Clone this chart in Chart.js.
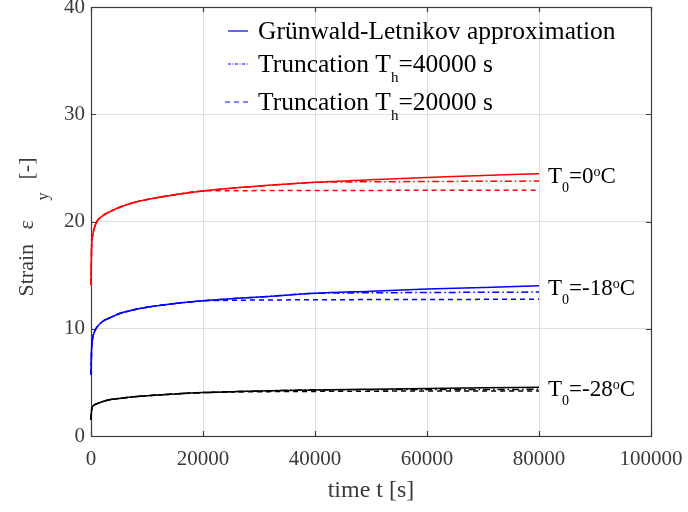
<!DOCTYPE html>
<html><head><meta charset="utf-8">
<script src="https://cdn.jsdelivr.net/npm/chart.js@4.4.0/dist/chart.umd.min.js"></script>
<style>html,body{margin:0;padding:0;background:#fff}#wrap{width:688px;height:512px}</style>
</head><body><div id="wrap"><canvas id="c" width="688" height="512"></canvas></div>
<script>
// ---- data ----
const timeS   = [0,100,300,600,1000,2000,3500,5000,7500,10000,15000,20000,25000,30000,40000,50000,60000,70000,80000];
const redGL   = [14.1,17.5,18.7,19.4,19.95,20.5,20.95,21.3,21.75,22.05,22.5,22.85,23.1,23.3,23.65,23.9,24.1,24.3,24.45];
const blueGL  = [5.7,8.0,9.1,9.7,10.1,10.65,11.05,11.4,11.75,12.0,12.35,12.6,12.8,12.95,13.3,13.5,13.7,13.85,14.0];
const blackGL = [1.5,2.4,2.75,2.9,3.0,3.2,3.4,3.5,3.65,3.75,3.92,4.05,4.13,4.2,4.3,4.37,4.43,4.49,4.54];

const trunc40 = 40000;
const tail40Times = [50000,60000,70000,80000];
const red40Tail   = [23.7,23.73,23.75,23.77];
const blue40Tail  = [13.35,13.38,13.4,13.42];
const black40Tail = [4.32,4.33,4.34,4.35];

const trunc20 = 20000;
const tail20Times = [25000,30000,40000,50000,60000,70000,80000];
const red20Tail   = [22.87,22.88,22.9,22.9,22.91,22.92,22.92];
const blue20Tail  = [12.65,12.68,12.7,12.72,12.73,12.74,12.75];
const black20Tail = [4.1,4.13,4.16,4.18,4.19,4.2,4.2];

const xTicks = [0,20000,40000,60000,80000,100000];
const yTicks = [0,10,20,30,40];
const legendLabels = ['Grünwald-Letnikov approximation','Truncation T','Truncation T'];
const legendSubs = ['', 'h', 'h'];
const legendTails = ['', '=40000 s', '=20000 s'];
const curveLabels = [['T','0','=0','o','C',24.45],['T','0','=-18','o','C',14.0],['T','0','=-28','o','C',4.54]];

// ---- build series ----
const pts = (ts, vs) => ts.map((t,i)=>({x:t,y:vs[i]}));
const truncated = (vals, th, tailT, tailV) =>
  pts(timeS.filter(t=>t<=th), vals.filter((v,i)=>timeS[i]<=th)).concat(pts(tailT, tailV));

const FONT = "'Liberation Serif','Times New Roman',serif";
const DASHDOT = [7,3,1.5,3];
const DASHED = [5,4];
function ds(data,color,dash){
  return {data, borderColor:color, borderWidth:1.5, borderDash:dash, pointRadius:0, clip:4,
          fill:false, cubicInterpolationMode:'monotone'};
}
const datasets = [
  ds(truncated(redGL,trunc20,tail20Times,red20Tail),'#ff0000',DASHED),
  ds(truncated(blueGL,trunc20,tail20Times,blue20Tail),'#0000ff',DASHED),
  ds(truncated(blackGL,trunc20,tail20Times,black20Tail),'#000000',DASHED),
  ds(truncated(redGL,trunc40,tail40Times,red40Tail),'#ff0000',DASHDOT),
  ds(truncated(blueGL,trunc40,tail40Times,blue40Tail),'#0000ff',DASHDOT),
  ds(truncated(blackGL,trunc40,tail40Times,black40Tail),'#000000',DASHDOT),
  ds(pts(timeS,redGL),'#ff0000',[]),
  ds(pts(timeS,blueGL),'#0000ff',[]),
  ds(pts(timeS,blackGL),'#000000',[]),
];

function rich(ctx, parts, x, y, size){
  // parts: [text, mode] mode: 0 normal, 1 sub, 2 sup
  let cx = x;
  for (const [t,m] of parts){
    const fs = m ? Math.round(size*0.6) : size;
    ctx.font = fs+'px '+FONT;
    const dy = m===1 ? size*0.38 : (m===2 ? -size*0.3 : 0);
    ctx.fillText(t, cx, y+dy);
    cx += ctx.measureText(t).width;
  }
}

const decor = {
  id:'decor',
  beforeDatasetsDraw(chart){
    const {ctx, chartArea:a, scales:{x,y}} = chart;
    ctx.save();
    ctx.strokeStyle='#3c3c3c'; ctx.lineWidth=1.2; ctx.setLineDash([]);
    ctx.strokeRect(Math.round(a.left)+0.5, Math.round(a.top)+0.5, Math.round(a.right-a.left), Math.round(a.bottom-a.top));
    ctx.beginPath();
    for (const v of xTicks){ const px=Math.round(x.getPixelForValue(v))+0.5;
      ctx.moveTo(px,a.bottom); ctx.lineTo(px,a.bottom-5); ctx.moveTo(px,a.top); ctx.lineTo(px,a.top+5); }
    for (const v of yTicks){ const py=Math.round(y.getPixelForValue(v))+0.5;
      ctx.moveTo(a.left,py); ctx.lineTo(a.left+5,py); ctx.moveTo(a.right,py); ctx.lineTo(a.right-5,py); }
    ctx.stroke();
    ctx.restore();
  },
  afterDraw(chart){
    const {ctx, chartArea:a, scales:{x,y}} = chart;
    ctx.save();
    // legend
    ctx.strokeStyle='#0000ff'; ctx.lineWidth=1.2;
    const lx = a.left+137, rows=[a.top+24, a.top+57, a.top+95], dashes=[[],[3,1.5,1,1.5],DASHED];
    rows.forEach((ry,i)=>{
      ctx.setLineDash(dashes[i]); ctx.beginPath();
      ctx.moveTo(lx + (i===2?-3:0), ry); ctx.lineTo(lx+20, ry); ctx.stroke();
    });
    ctx.setLineDash([]);
    ctx.fillStyle='#000'; ctx.textBaseline='alphabetic'; ctx.textAlign='left';
    rows.forEach((ry,i)=>{
      const parts=[[legendLabels[i],0]];
      if (legendSubs[i]) parts.push([legendSubs[i],1],[legendTails[i],0]);
      rich(ctx, parts, lx+30, ry+8, 25.5);
    });

    // curve labels
    curveLabels.forEach(c=>{
      const py = y.getPixelForValue(c[5]);
      rich(ctx, [[c[0],0],[c[1],1],[c[2],0],[c[3],2],[c[4],0]], x.getPixelForValue(80000)+9, py+9, 23);
    });

    // y axis title (rotated, with subscript)
    ctx.fillStyle='#3a3a3a';
    ctx.translate(33, y.getPixelForValue(20)+75);
    ctx.rotate(-Math.PI/2);
    ctx.font='22px '+FONT;
    ctx.fillText('Strain',0,0);
    ctx.fillText('ε',67,0);
    ctx.fillText('[-]',117,0);
    ctx.font='16px '+FONT;
    ctx.fillText('y',96,15);
    ctx.restore();
  }
};

function noPad(s){ s.paddingLeft=0; s.paddingRight=0; s.paddingTop=0; s.paddingBottom=0; }

new Chart(document.getElementById('c'), {
  type:'line',
  data:{datasets},
  options:{
    responsive:false, animation:false, devicePixelRatio:1,
    layout:{padding:{left:0,right:37,top:7,bottom:0}},
    plugins:{legend:{display:false}, tooltip:{enabled:false}},
    scales:{
      x:{type:'linear', min:0, max:100000,
        afterFit(s){ s.height=76; noPad(s); },
        afterBuildTicks(s){ s.ticks = xTicks.map(v=>({value:v})); },
        ticks:{font:{family:FONT,size:21}, color:'#3a3a3a', padding:11, maxRotation:0, autoSkip:false,
               callback:v=>String(v)},
        grid:{color:'#dedede', lineWidth:1, drawTicks:false},
        border:{display:false},
        title:{display:true, text:'time t [s]', font:{family:FONT,size:24}, color:'#3a3a3a', padding:{top:0,bottom:7}}
      },
      y:{type:'linear', min:0, max:40,
        afterFit(s){ s.width=91; noPad(s); },
        afterBuildTicks(s){ s.ticks = yTicks.map(v=>({value:v})); },
        ticks:{font:{family:FONT,size:21}, color:'#3a3a3a', padding:6, callback:v=>String(v)},
        grid:{color:'#dedede', lineWidth:1, drawTicks:false},
        border:{display:false}
      }
    }
  },
  plugins:[decor]
});
</script></body></html>
